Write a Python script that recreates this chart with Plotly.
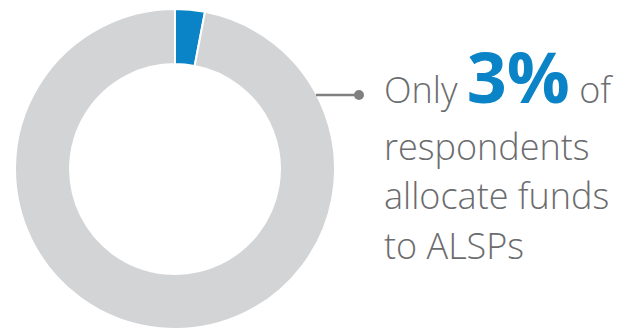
import plotly.graph_objects as go

# Share of respondents allocating funds to ALSPs
categories = ["Allocate funds to ALSPs", "Do not allocate"]
values = [3, 97]
slice_colors = ["#0a84c6", "#d3d4d6"]

# Callout text, one entry per line
callout_lines = [
    "Only <span style='font-size:70px;color:#0a84c6'><b>3%</b></span> of",
    "respondents",
    "allocate funds",
    "to ALSPs",
]

W, H = 627, 329
TEXT_GRAY = "#6b6c6e"
FONT = "Open Sans"

fig = go.Figure(
    go.Pie(
        labels=categories,
        values=values,
        hole=0.656,
        sort=False,
        direction="clockwise",
        rotation=0,
        marker=dict(colors=slice_colors, line=dict(color="white", width=2)),
        textinfo="none",
        hoverinfo="label+percent",
        domain=dict(x=[15 / W, 335 / W], y=[0, 320 / H]),
        showlegend=False,
    )
)

# Leader line with a dot at its end
ly = 1 - 95 / H
fig.add_shape(type="line", xref="paper", yref="paper",
              x0=316 / W, x1=359 / W, y0=ly, y1=ly,
              line=dict(color="#808080", width=2.5))
fig.add_shape(type="circle", xref="paper", yref="paper",
              x0=354 / W, x1=364 / W, y0=1 - 100 / H, y1=1 - 90 / H,
              fillcolor="#808080", line=dict(width=0))

baselines = [104, 158, 207, 257]
offsets = [22, 15, 15, 15]
for text, base, off in zip(callout_lines, baselines, offsets):
    fig.add_annotation(
        text=text, xref="paper", yref="paper",
        x=382 / W, y=1 - (base + off) / H,
        xanchor="left", yanchor="bottom",
        showarrow=False,
        font=dict(family=FONT, size=36, color=TEXT_GRAY, weight=300),
        align="left",
    )

fig.update_layout(
    width=W, height=H,
    margin=dict(l=0, r=0, t=0, b=0),
    paper_bgcolor="white",
    plot_bgcolor="white",
)

fig.write_html("out.html")
